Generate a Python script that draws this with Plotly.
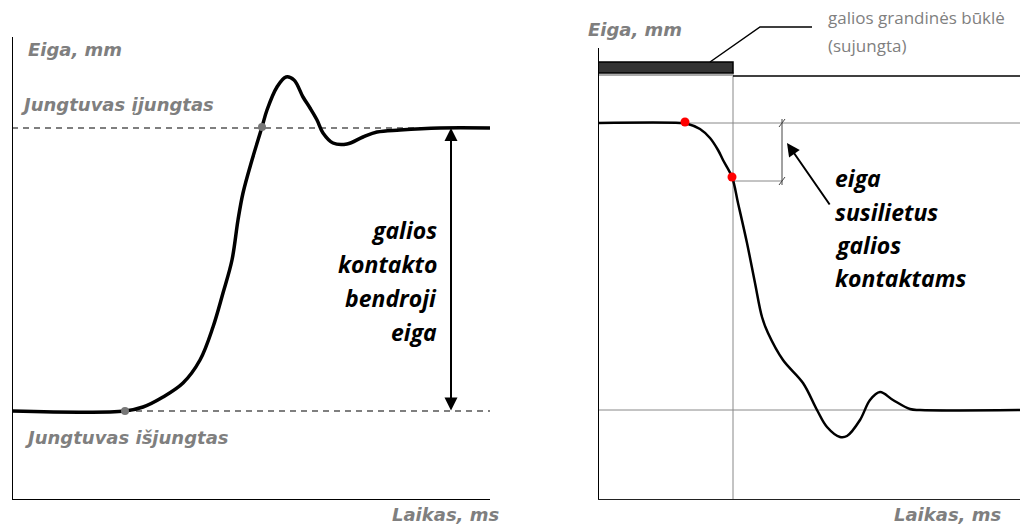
import plotly.graph_objects as go

# left panel: closing travel (time ms, travel mm - schematic units)
close_t = [0, 113, 131, 151, 171, 188, 201, 211, 220, 226, 231, 240, 250, 255, 265, 274,
           282, 291, 298, 305, 311, 321, 335, 351, 365, 388, 428, 478]
close_s = [89, 89, 93, 103, 117, 140, 173, 207, 240, 280, 307, 340, 373, 390, 413, 423,
           420, 403, 392, 380, 367, 357, 356, 363, 368, 370, 372, 372]
close_marks_t = [113, 250]
close_marks_s = [89, 373]
on_level = 372
off_level = 89

# right panel: opening travel
open_t = [0, 82, 90, 102, 112, 120, 125, 134, 140, 149, 157, 164, 170, 185, 205, 219, 229,
          242, 249, 262, 272, 282, 295, 312, 322, 422]
open_s = [377, 377, 376, 371, 362, 350, 340, 323, 297, 257, 217, 183, 167, 140, 117, 90, 73,
          63, 64, 80, 100, 108, 100, 91, 90, 90]
open_marks_t = [87, 134]
open_marks_s = [378, 323]
top_level = 377
end_level = 90
circuit_level = 424
circuit_end = 135
wipe_level = 319
dim_x = 184

left_words = ["galios", "kontakto", "bendroji", "eiga"]
right_words = ["eiga", "susilietus", "galios", "kontaktams"]
note_lines = ["galios grandinės būklė", "(sujungta)"]

W, H = 1025, 529
GRAY = "#7f7f7f"


def px(x):
    return x / W


def py(y):
    return 1 - y / H


fig = go.Figure()

fig.add_trace(go.Scatter(x=[0, 478], y=[on_level, on_level], mode="lines",
                         line=dict(color="#555", width=1.5, dash="6px,5px"),
                         xaxis="x", yaxis="y"))
fig.add_trace(go.Scatter(x=[113, 478], y=[off_level, off_level], mode="lines",
                         line=dict(color="#555", width=1.5, dash="6px,5px"),
                         xaxis="x", yaxis="y"))
fig.add_trace(go.Scatter(x=close_t, y=close_s, mode="lines", line_shape="spline",
                         line=dict(color="black", width=3.5), xaxis="x", yaxis="y"))
fig.add_trace(go.Scatter(x=close_marks_t, y=close_marks_s, mode="markers",
                         marker=dict(color="#777", size=8), xaxis="x", yaxis="y"))

# right panel reference lines
thin = dict(color="#888", width=1)
fig.add_trace(go.Scatter(x=[0, 422], y=[top_level, top_level], mode="lines", line=thin,
                         xaxis="x2", yaxis="y2"))
fig.add_trace(go.Scatter(x=[0, 422], y=[end_level, end_level], mode="lines", line=thin,
                         xaxis="x2", yaxis="y2"))
fig.add_trace(go.Scatter(x=[circuit_end, circuit_end], y=[0, 428], mode="lines", line=thin,
                         xaxis="x2", yaxis="y2"))
fig.add_trace(go.Scatter(x=[circuit_end, dim_x], y=[wipe_level, wipe_level], mode="lines",
                         line=thin, xaxis="x2", yaxis="y2"))
fig.add_trace(go.Scatter(x=[dim_x, dim_x], y=[top_level + 4, wipe_level - 4], mode="lines",
                         line=dict(color="#444", width=1), xaxis="x2", yaxis="y2"))
for lv in (top_level, wipe_level):
    fig.add_trace(go.Scatter(x=[dim_x - 3, dim_x + 3], y=[lv - 4, lv + 4], mode="lines",
                             line=dict(color="#444", width=1), xaxis="x2", yaxis="y2"))
fig.add_trace(go.Scatter(x=[circuit_end, 422], y=[circuit_level, circuit_level], mode="lines",
                         line=dict(color="black", width=1.5), xaxis="x2", yaxis="y2"))
fig.add_trace(go.Scatter(x=[0, circuit_end], y=[circuit_level + 1, circuit_level + 1],
                         mode="lines", line=dict(color="#aaa", width=2),
                         xaxis="x2", yaxis="y2"))
fig.add_trace(go.Scatter(x=[0, circuit_end, circuit_end, 0, 0],
                         y=[427, 427, 438, 438, 427], mode="lines", fill="toself",
                         fillcolor="#333", line=dict(color="black", width=1.5),
                         xaxis="x2", yaxis="y2"))
fig.add_trace(go.Scatter(x=open_t, y=open_s, mode="lines", line_shape="spline",
                         line=dict(color="black", width=2.5), xaxis="x2", yaxis="y2"))
fig.add_trace(go.Scatter(x=open_marks_t, y=open_marks_s, mode="markers",
                         marker=dict(color="red", size=9), xaxis="x2", yaxis="y2"))

shapes = [
    dict(type="line", xref="x", yref="y", x0=0, y0=0, x1=0, y1=463,
         line=dict(color="black", width=2)),
    dict(type="line", xref="x", yref="y", x0=0, y0=0, x1=478, y1=0,
         line=dict(color="black", width=2)),
    dict(type="line", xref="x2", yref="y2", x0=0, y0=0, x1=0, y1=457,
         line=dict(color="black", width=2)),
    dict(type="line", xref="x2", yref="y2", x0=0, y0=0, x1=422, y1=0,
         line=dict(color="#222", width=2)),
    dict(type="path", xref="paper", yref="paper",
         path=f"M {px(710)},{py(62)} L {px(760)},{py(27)} L {px(812)},{py(27)}",
         line=dict(color="black", width=1.5)),
]

lab = dict(family="DejaVu Sans", size=18, color=GRAY, weight="bold", style="italic")
big = dict(family="Open Sans", size=23, color="black", weight="bold", style="italic")
note = dict(family="Open Sans", size=17, color=GRAY)

ann = [
    dict(text="Eiga, mm", x=px(27), y=py(49), xanchor="left", font=lab),
    dict(text="Jungtuvas įjungtas", x=px(20), y=py(104), xanchor="left", font=lab),
    dict(text="Jungtuvas išjungtas", x=px(24), y=py(437), xanchor="left", font=lab),
    dict(text="Laikas, ms", x=px(500), y=py(514), xanchor="right", font=lab),
    dict(text="Eiga, mm", x=px(587), y=py(30), xanchor="left", font=lab),
    dict(text="Laikas, ms", x=px(1002), y=py(514), xanchor="right", font=lab),
    dict(text="", xref="x", yref="y", axref="x", ayref="y", x=439, y=on_level,
         ax=439, ay=off_level, showarrow=True, arrowhead=2, arrowside="end+start",
         arrowsize=1.3, arrowwidth=2, arrowcolor="black", standoff=0, startstandoff=0),
    dict(text="", xref="x2", yref="y2", axref="x2", ayref="y2", x=189, y=357,
         ax=232, ay=295, showarrow=True, arrowhead=2, arrowsize=1.3, arrowwidth=2,
         arrowcolor="black"),
]
for word, yy in zip(left_words, [230, 264, 298, 332]):
    ann.append(dict(text=word, x=px(438), y=py(yy), xanchor="right", font=big))
for word, yy in zip(right_words, [178, 212, 245, 278]):
    ann.append(dict(text=word, x=px(834), y=py(yy), xanchor="left", font=big))
for line, yy in zip(note_lines, [18, 45]):
    ann.append(dict(text=line, x=px(827), y=py(yy), xanchor="left", font=note))

for a in ann:
    a.setdefault("xref", "paper")
    a.setdefault("yref", "paper")
    a.setdefault("yanchor", "middle")
    a.setdefault("showarrow", False)
    a.setdefault("borderpad", 0)

fig.update_layout(
    width=W, height=H, margin=dict(l=0, r=0, t=0, b=0),
    plot_bgcolor="white", paper_bgcolor="white", showlegend=False,
    xaxis=dict(domain=[px(12), px(490)], range=[0, 478], visible=False, anchor="y"),
    yaxis=dict(domain=[py(500), py(37)], range=[0, 463], visible=False, anchor="x"),
    xaxis2=dict(domain=[px(598), px(1020)], range=[0, 422], visible=False, anchor="y2"),
    yaxis2=dict(domain=[py(500), py(48)], range=[0, 452], visible=False, anchor="x2"),
    shapes=shapes, annotations=ann,
)

# page body has a default 8px margin; drop it so the figure sits at the window corner
fig.write_html("out.html", config={"displayModeBar": False},
               post_script="document.body.style.margin='0';")
